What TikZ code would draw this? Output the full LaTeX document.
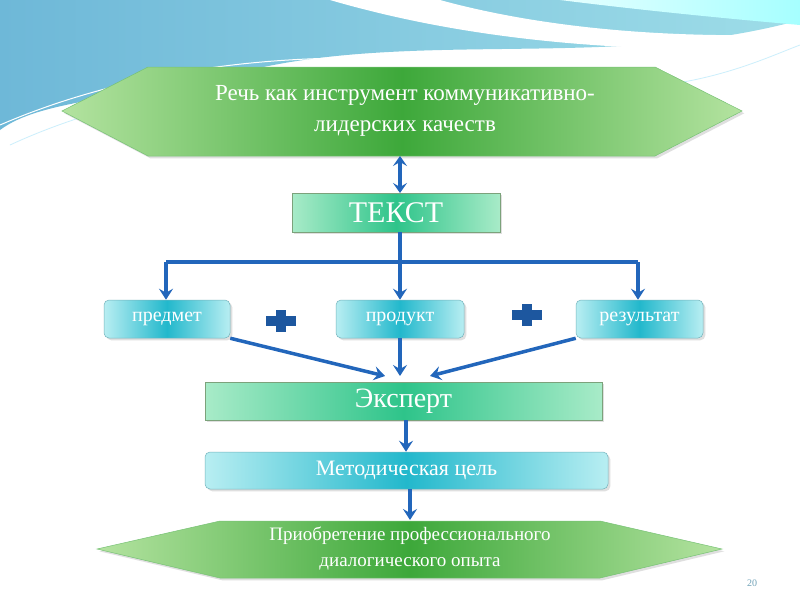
\documentclass[tikz,border=0pt]{standalone}
\usepackage{fontspec}
\setmainfont{Liberation Serif}
\usetikzlibrary{arrows.meta,shadows}
\definecolor{arr}{HTML}{2266BB}
\definecolor{gdark}{HTML}{3DA83A}
\definecolor{glight}{HTML}{B4E3A0}
\definecolor{cdark}{HTML}{22B8CC}
\definecolor{clight}{HTML}{B8EEF2}
\definecolor{tdark}{HTML}{2EC48A}
\definecolor{tlight}{HTML}{A8EBC8}
\definecolor{wave1}{HTML}{6EB8D8}
\definecolor{wave2}{HTML}{9EDDE8}
\begin{document}
\begin{tikzpicture}[x=1pt,y=-1pt,
  txt/.style 2 args={text=white,align=center,font=\fontsize{#1}{#2}\selectfont},
  hexa/.style={draw=gdark!70!white,line width=0.5pt,left color=glight,right color=glight,middle color=gdark,drop shadow={opacity=0.25}},
  tbox/.style={draw=gdark!60!black!60,line width=0.5pt,left color=tlight,right color=tlight,middle color=tdark,drop shadow={opacity=0.25}},
  cbox/.style={draw=cdark!70!black!60,rounded corners=5pt,line width=0.5pt,left color=clight,right color=clight,middle color=cdark,drop shadow={opacity=0.25}},
  ar/.style={draw=arr,line width=3.5pt,-{Stealth[length=11pt,width=14pt,inset=4pt]}},
  plus/.style={fill=arr!85!black}]
\useasboundingbox (0,0) rectangle (800,600);
\fill[white] (0,0) rectangle (800,600);
% background waves
\shade[left color=wave1,right color=wave2] (0,0) -- (800,0) -- (800,20) .. controls (620,70) and (420,30) .. (250,70) .. controls (120,100) and (40,100) .. (0,130) -- cycle;
\fill[white] (330,0) .. controls (450,35) and (600,55) .. (800,48) -- (800,34) .. controls (640,40) and (520,22) .. (440,0) -- cycle;
\shade[left color=cyan!10,right color=cyan!35] (560,0) -- (800,0) -- (800,25) .. controls (720,18) and (640,10) .. (560,0);
\draw[white,line width=1pt] (0,125) .. controls (150,60) and (350,40) .. (550,75) .. controls (650,90) and (750,70) .. (800,30);
\draw[white!80!cyan,line width=0.8pt] (10,145) .. controls (150,80) and (360,55) .. (560,85) .. controls (680,100) and (760,60) .. (800,45);
% shapes
\path[hexa] (62,111) -- (148,67) -- (655,67) -- (742,111) -- (655,156) -- (148,156) -- cycle;
\node[txt={23}{31}] (top) at (405,111) {Речь как инструмент коммуникативно-\\лидерских качеств};
\node[tbox,minimum width=208pt,minimum height=39pt] (tekst) at (396,212.5) {};
\node[txt={30}{34}] at (tekst) {ТЕКСТ};
\node[cbox,minimum width=126pt,minimum height=38pt] (p1) at (167,319) {};
\node[txt={20}{24}] at (p1) {предмет};
\node[cbox,minimum width=128pt,minimum height=38pt] (p2) at (400,319) {};
\node[txt={20}{24}] at (p2) {продукт};
\node[cbox,minimum width=127pt,minimum height=38pt] (p3) at (639.5,319) {};
\node[txt={20}{24}] at (p3) {результат};
\node[tbox,minimum width=397pt,minimum height=38pt] (exp) at (403.5,401) {};
\node[txt={28}{32}] at (exp) {Эксперт};
\node[cbox,minimum width=403pt,minimum height=37pt] (met) at (406.5,470.5) {};
\node[txt={22}{26}] at (met) {Методическая цель};
\path[hexa] (97,549) -- (220,521) -- (600,521) -- (722,549) -- (600,578) -- (220,578) -- cycle;
\node[txt={19}{26}] (bot) at (410,549) {Приобретение профессионального\\диалогического опыта};
\node[text=gray!60!cyan,font=\fontsize{10}{10}\selectfont] (num) at (752,583) {20};
% plus signs
\fill[plus] (276,310) rectangle (286,332); \fill[plus] (266,316) rectangle (296,326);
\fill[plus] (522,304) rectangle (532,326); \fill[plus] (512,310) rectangle (542,320);
% connectors
\draw[draw=arr,line width=3.5pt,{Stealth[length=10pt,width=14pt,inset=4pt]}-{Stealth[length=10pt,width=14pt,inset=4pt]}] (400,156) -- (400,193);
\coordinate (j) at (400,262);
\coordinate (jl) at (166,262);
\coordinate (jr) at (638,262);
\draw[ar] (tekst.south -| j) -- (j) -- (p2.north);
\draw[draw=arr,line width=3.5pt] (jl) -- (jr);
\draw[ar] (jl) -- (p1.north -| jl);
\draw[ar] (jr) -- (p3.north -| jr);
\coordinate (e1) at (385,376);
\coordinate (e2) at (400,376);
\coordinate (e3) at (430,376);
\draw[ar] (p1.south east) -- (e1);
\draw[ar] (p2.south) -- (e2);
\draw[ar] (p3.south west) -- (e3);
\draw[ar] (exp.south -| 406,0) -- (met.north -| 406,0);
\draw[ar] (met.south -| 410,0) -- (410,520);
\end{tikzpicture}
\end{document}
